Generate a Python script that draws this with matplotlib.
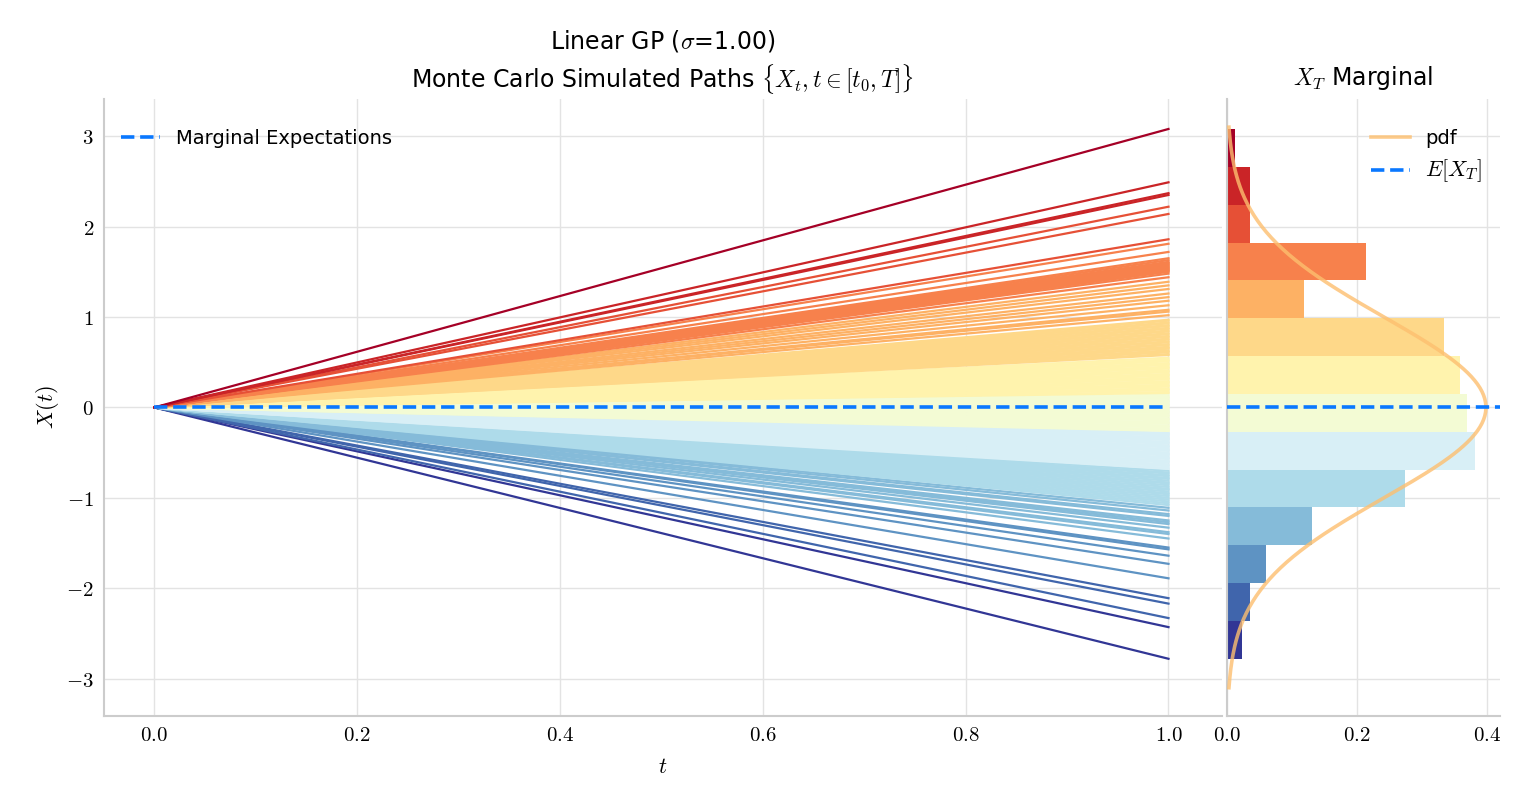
import numpy as np
import matplotlib
matplotlib.use("Agg")
import matplotlib.pyplot as plt
from matplotlib.ticker import FuncFormatter

# end values X_T of the simulated paths (paths are linear: X_t = t * X_T)
end_values = [
    -2.78, -2.43,
    -2.33, -2.17, -2.11,
    -1.89, -1.73, -1.64, -1.57, -1.55,
    -1.45, -1.40, -1.38, -1.33, -1.29, -1.27, -1.25, -1.20, -1.18, -1.14, -1.11,
    -1.08, -1.06, -1.04, -1.02, -1.00, -0.98, -0.96, -0.95, -0.93, -0.91, -0.90,
    -0.88, -0.86, -0.84, -0.83, -0.81, -0.79, -0.78, -0.76, -0.75, -0.73, -0.72, -0.70,
    -0.68, -0.67, -0.65, -0.64, -0.63, -0.61, -0.60, -0.59, -0.57, -0.56, -0.55,
    -0.53, -0.52, -0.51, -0.50, -0.48, -0.47, -0.46, -0.44, -0.43, -0.42, -0.40,
    -0.39, -0.38, -0.36, -0.35, -0.34, -0.33, -0.31, -0.30, -0.29, -0.28,
    -0.26, -0.25, -0.24, -0.22, -0.21, -0.20, -0.18, -0.17, -0.16, -0.14, -0.13,
    -0.12, -0.10, -0.09, -0.08, -0.06, -0.05, -0.04, -0.02, -0.01, 0.00, 0.02,
    0.03, 0.04, 0.06, 0.07, 0.08, 0.10, 0.11, 0.12, 0.14,
    0.16, 0.17, 0.19, 0.20, 0.21, 0.23, 0.24, 0.25, 0.27, 0.28, 0.29, 0.31,
    0.32, 0.33, 0.35, 0.36, 0.37, 0.39, 0.40, 0.41, 0.43, 0.44, 0.45, 0.47,
    0.48, 0.49, 0.51, 0.52, 0.53, 0.55,
    0.58, 0.59, 0.61, 0.62, 0.63, 0.65, 0.66, 0.67, 0.69, 0.70, 0.72, 0.73,
    0.75, 0.76, 0.78, 0.79, 0.81, 0.82, 0.84, 0.85, 0.87, 0.88, 0.90, 0.91,
    0.93, 0.94, 0.96, 0.97,
    1.02, 1.06, 1.08, 1.13, 1.18, 1.22, 1.26, 1.31, 1.35, 1.39,
    1.44, 1.48, 1.50, 1.51, 1.52, 1.53, 1.54, 1.55, 1.56, 1.57, 1.58, 1.59,
    1.60, 1.61, 1.63, 1.65, 1.72, 1.81,
    1.86, 2.14, 2.22,
    2.35, 2.37, 2.49,
    3.08,
]
n_bins = 14
t_grid = [0.0, 1.0]
blue = "#0A78FF"

plt.rcParams["mathtext.fontset"] = "cm"
plt.rcParams["font.family"] = ["DejaVu Sans"]

end_values = np.array(end_values)
counts, edges = np.histogram(end_values, bins=n_bins, density=True)
cmap = plt.get_cmap("RdYlBu_r")
colors = [cmap(i / (n_bins - 1)) for i in range(n_bins)]
bin_idx = np.clip(np.digitize(end_values, edges) - 1, 0, n_bins - 1)

fig = plt.figure(figsize=(15.24, 8.06), dpi=100)
ax = fig.add_axes([0.068, 0.112, 0.734, 0.765])
axh = fig.add_axes([0.805, 0.112, 0.179, 0.765], sharey=ax)

for v, b in zip(end_values, bin_idx):
    ax.plot(t_grid, [0.0, v], color=colors[b], lw=1.6, zorder=2)
ax.plot(t_grid, [0.0, 0.0], color=blue, ls="--", lw=2.6, zorder=3,
        label="Marginal Expectations")

axh.barh(edges[:-1], counts, height=np.diff(edges), align="edge",
         color=colors, zorder=2)
ys = np.linspace(-3.1, 3.1, 300)
axh.plot(np.exp(-ys ** 2 / 2) / np.sqrt(2 * np.pi), ys, color="#FDBF6F",
         lw=2.6, alpha=0.8, zorder=3, label="pdf")
axh.axhline(0, color=blue, ls="--", lw=2.6, zorder=4, label="$E[X_T]$")

math_fmt = FuncFormatter(lambda v, p: f"${v:.1f}$")
int_fmt = FuncFormatter(lambda v, p: f"${int(round(v))}$")
for a in (ax, axh):
    a.grid(True, color="#E3E3E3", lw=1.0, zorder=0)
    a.set_axisbelow(True)
    for s in ("top", "right"):
        a.spines[s].set_visible(False)
    for s in ("left", "bottom"):
        a.spines[s].set_color("#CCCCCC")
        a.spines[s].set_linewidth(1.5)
    a.tick_params(length=0, labelsize=15, pad=7)
    a.xaxis.set_major_formatter(math_fmt)

ax.set_xlim(-0.05, 1.053)
ax.set_ylim(-3.41, 3.41)
ax.set_xticks([0.0, 0.2, 0.4, 0.6, 0.8, 1.0])
ax.set_yticks([-3, -2, -1, 0, 1, 2, 3])
ax.yaxis.set_major_formatter(int_fmt)
ax.set_xlabel("$t$", fontsize=16, labelpad=8)
ax.set_ylabel("$X(t)$", fontsize=16)
ax.set_title("Linear GP ($\\sigma$=1.00)\nMonte Carlo Simulated Paths "
             "$\\{X_t, t\\in[t_0, T]\\}$", fontsize=17, linespacing=1.3, pad=8)
ax.legend(loc="upper left", frameon=False, fontsize=14,
          bbox_to_anchor=(0.0, 0.98))

axh.set_xlim(0, 0.42)
axh.set_xticks([0.0, 0.2, 0.4])
axh.tick_params(labelleft=False)
axh.set_title("$X_T$ Marginal", fontsize=17, pad=10)
leg = axh.legend(loc="upper right", frameon=False, fontsize=14,
                 bbox_to_anchor=(1.0, 0.98))
leg.get_texts()[1].set_fontsize(16)

fig.savefig("out.png", dpi=100)
